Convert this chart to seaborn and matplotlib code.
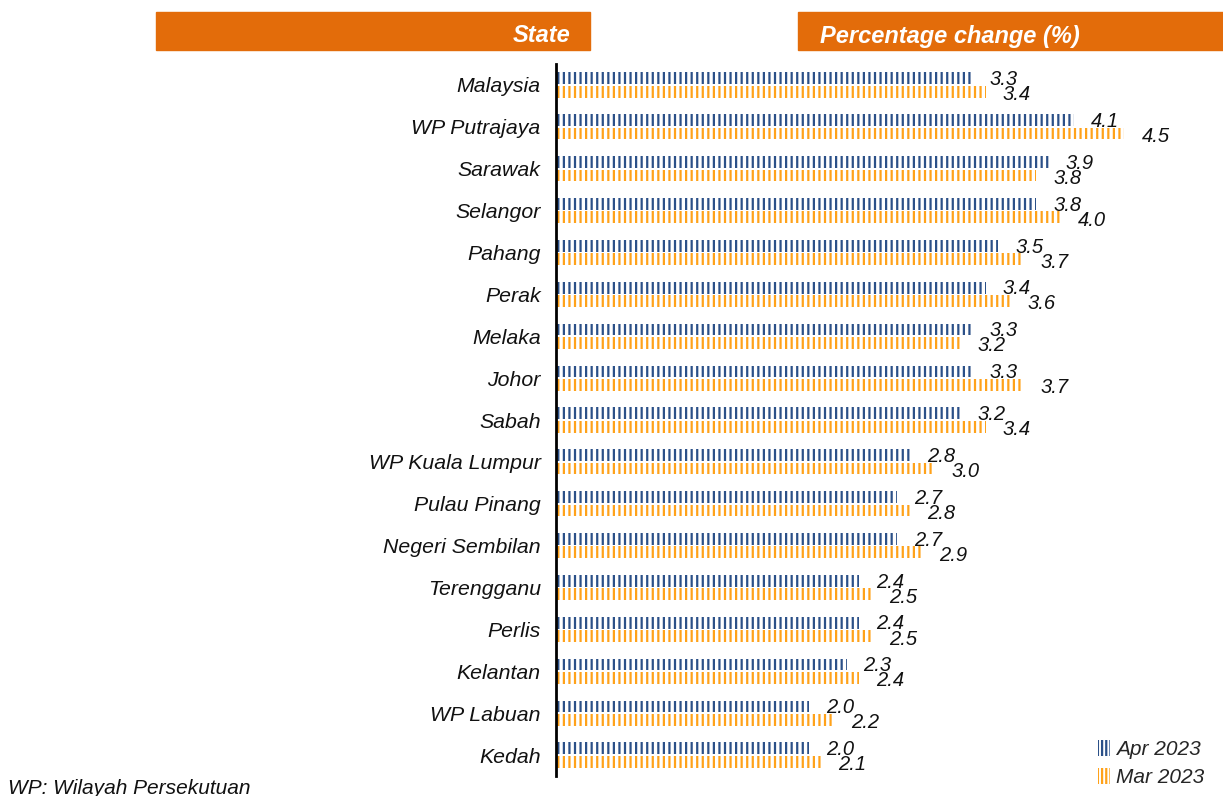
import pandas as pd
import matplotlib.pyplot as plt
import seaborn as sns
from matplotlib.patches import Rectangle, Patch

# Data
states = ['Malaysia', 'WP Putrajaya', 'Sarawak', 'Selangor', 'Pahang', 'Perak',
          'Melaka', 'Johor', 'Sabah', 'WP Kuala Lumpur', 'Pulau Pinang',
          'Negeri Sembilan', 'Terengganu', 'Perlis', 'Kelantan', 'WP Labuan', 'Kedah']
apr_2023 = [3.3, 4.1, 3.9, 3.8, 3.5, 3.4, 3.3, 3.3, 3.2, 2.8, 2.7, 2.7, 2.4, 2.4, 2.3, 2.0, 2.0]
mar_2023 = [3.4, 4.5, 3.8, 4.0, 3.7, 3.6, 3.2, 3.7, 3.4, 3.0, 2.8, 2.9, 2.5, 2.5, 2.4, 2.2, 2.1]
months = ['Apr 2023', 'Mar 2023']

BLUE = '#2B5088'
ORANGE = '#FFA21A'
HEADER = '#E36C0A'

df = pd.DataFrame({
    'state': states * 2,
    'value': apr_2023 + mar_2023,
    'month': [months[0]] * len(states) + [months[1]] * len(states),
})

sns.set_style('white')
plt.rcParams['font.family'] = ['Liberation Sans', 'DejaVu Sans']
plt.rcParams['hatch.linewidth'] = 1.6

fig = plt.figure(figsize=(12.23, 7.96), dpi=100)
ax = fig.add_axes([556 / 1223, 1 - 776 / 796, 1 - 556 / 1223, (776 - 64) / 796])

sns.barplot(data=df, y='state', x='value', hue='month', orient='h',
            palette=[BLUE, ORANGE], width=0.64, gap=0.12, legend=False, ax=ax)

# striped bars
for cont, col in zip(ax.containers, [BLUE, ORANGE]):
    for bar in cont:
        bar.set_facecolor('white')
        bar.set_edgecolor(col)
        bar.set_linewidth(0)
        bar.set_hatch('|||')

# value labels
for cont, vals, dy in zip(ax.containers, [apr_2023, mar_2023], [0.03, 0.07]):
    for bar, v in zip(cont, vals):
        y = bar.get_y() + bar.get_height() / 2 + dy
        ax.text(v + 0.135, y, f'{v:.1f}', fontsize=14.5, style='italic',
                ha='left', va='center', color='#111111')

ax.set_xlim(0, 5.28)
ax.set_ylim(len(states) - 0.5, -0.5)
ax.set_xlabel('')
ax.set_ylabel('')
ax.set_xticks([])
ax.tick_params(axis='y', length=0, pad=11)
for lab in ax.get_yticklabels():
    lab.set_fontstyle('italic')
    lab.set_fontsize(15.3)
    lab.set_color('#111111')
for s in ['top', 'right', 'bottom']:
    ax.spines[s].set_visible(False)
ax.spines['left'].set_linewidth(2)
ax.spines['left'].set_color('black')

# header boxes
fig.patches.append(Rectangle((156 / 1223, 1 - 50 / 796), (590 - 156) / 1223, 38 / 796,
                             transform=fig.transFigure, color=HEADER, zorder=0))
fig.patches.append(Rectangle((798 / 1223, 1 - 50 / 796), (1223 - 798) / 1223, 38 / 796,
                             transform=fig.transFigure, color=HEADER, zorder=0))
fig.text(570 / 1223, 1 - 36 / 796, 'State', color='white', fontsize=17,
         fontweight='bold', style='italic', ha='right', va='center')
fig.text(820 / 1223, 1 - 36 / 796, 'Percentage change (%)', color='white', fontsize=17,
         fontweight='bold', style='italic', ha='left', va='center')

# footnote
fig.text(8 / 1223, 1 - 788 / 796, 'WP: Wilayah Persekutuan', fontsize=15,
         style='italic', ha='left', va='center', color='#111111')

# legend
handles = [Patch(facecolor='white', edgecolor=c, linewidth=0, hatch='||||', label=m)
           for c, m in zip([BLUE, ORANGE], months)]
fig.legend(handles=handles, loc='lower right', bbox_to_anchor=(1.0, -0.012),
           frameon=False, handlelength=0.55, handleheight=0.8, handletextpad=0.3,
           labelspacing=0.4, prop={'size': 15, 'style': 'italic'})

fig.savefig('out.png', dpi=100)
